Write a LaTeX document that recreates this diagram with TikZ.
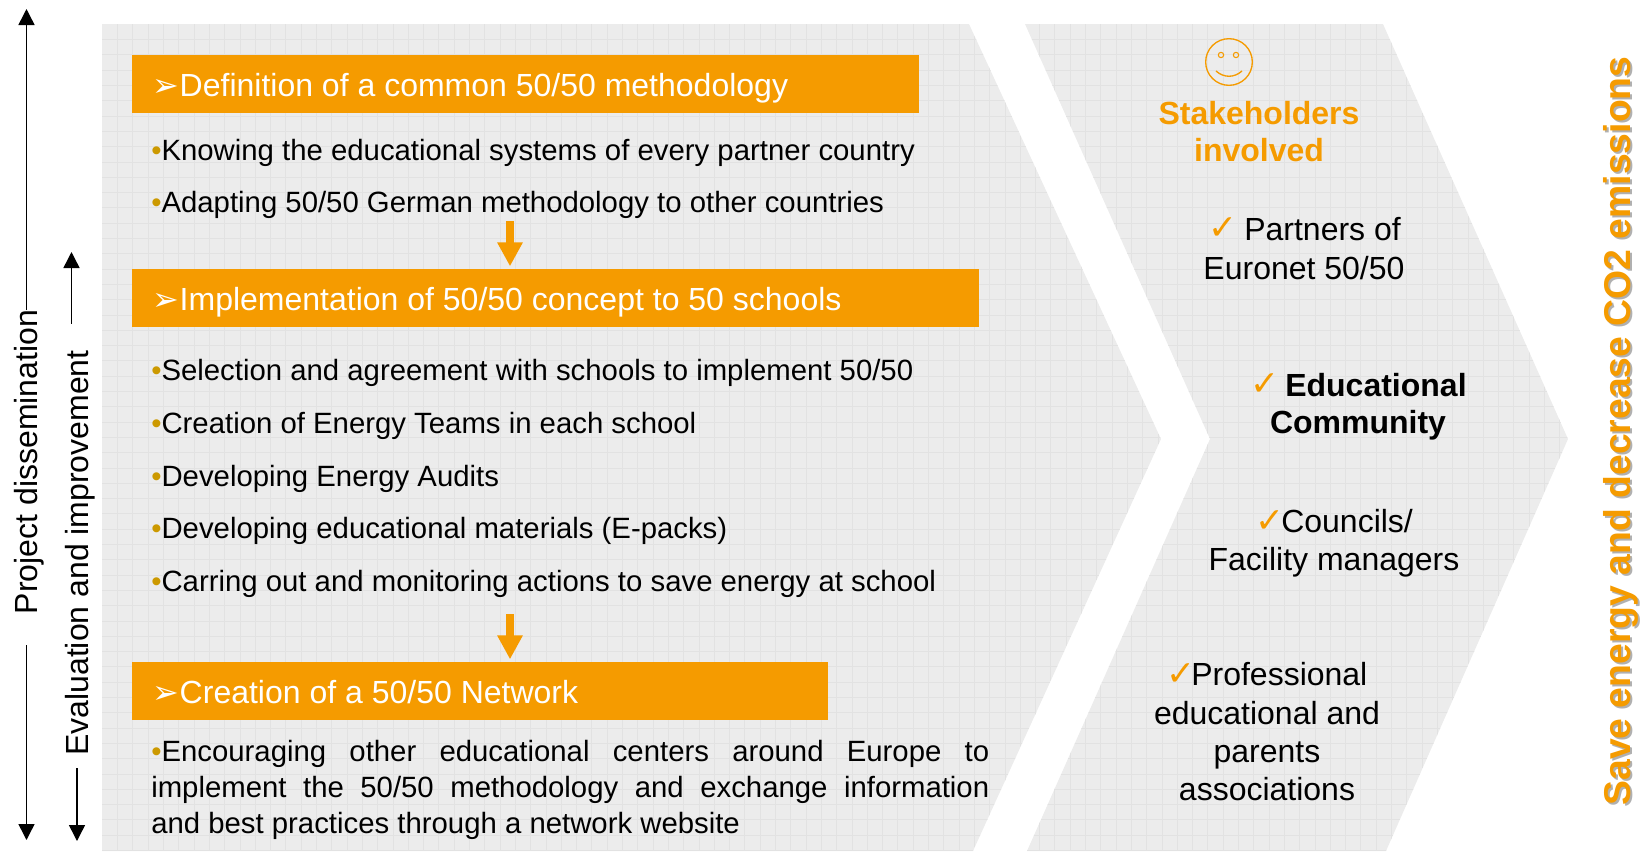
\documentclass[tikz,border=0pt]{standalone}
\usepackage{fontspec}
\setmainfont{Liberation Sans}
\newfontfamily\symfont{DejaVu Sans}
\usetikzlibrary{arrows.meta}
\definecolor{orangec}{HTML}{F59B00}
\definecolor{bulletc}{HTML}{CC9900}
\definecolor{chevc}{HTML}{ECECEC}
\definecolor{gridc}{HTML}{E2E2E2}
\definecolor{shadowc}{HTML}{B0B0B0}
\newcommand{\bul}{\textcolor{bulletc}{•}}
\newcommand{\arr}{{\symfont\fontsize{24}{28}\selectfont ➢}\hspace{0.5pt}}
\tikzset{
  x=0.75pt,y=-0.75pt,
  txt/.style={anchor=base west,inner sep=0pt,font=\fontsize{22}{26}\selectfont,text=black},
  ctr/.style={anchor=base,inner sep=0pt,font=\fontsize{24}{28}\selectfont,text=black},
  rgt/.style={anchor=base west,inner sep=0pt,font=\fontsize{24}{28}\selectfont,text=black},
  hdr/.style={anchor=base west,inner sep=0pt,font=\fontsize{24}{28}\selectfont,text=white},
  bar/.style={anchor=north west,inner sep=0pt,fill=orangec,minimum height=43.5pt},
  chk/.style={anchor=base west,inner sep=0pt,font=\symfont\fontsize{26}{28}\selectfont,text=orangec},
  arrowline/.style={line width=1.1pt,-{Triangle[width=12pt,length=12pt]}},
  fatarrow/.style={orangec,line width=6pt,-{Triangle[width=18pt,length=18pt]}},
  gridline/.style={gridc,line width=0.3pt},
  smile/.style={orangec,line width=1pt}
}
\begin{document}
\begin{tikzpicture}
\useasboundingbox (0,0) rectangle (1643,851);
% chevrons
\begin{scope}
  \fill[chevc] (102,24) -- (969,24) -- (1161,439) -- (973,851) -- (102,851) -- cycle;
  \clip (102,24) -- (969,24) -- (1161,439) -- (973,851) -- (102,851) -- cycle;
  \foreach \k in {1,...,70} {\draw[gridline] ({102+15.3*\k},24) -- ({102+15.3*\k},851);}
  \foreach \k in {1,...,54} {\draw[gridline] (102,{24+15.3*\k}) -- (1170,{24+15.3*\k});}
\end{scope}
\begin{scope}
  \fill[chevc] (1025,24) -- (1383,24) -- (1568,439) -- (1386,851) -- (1027,851) -- (1210,439) -- cycle;
  \clip (1025,24) -- (1383,24) -- (1568,439) -- (1386,851) -- (1027,851) -- (1210,439) -- cycle;
  \foreach \k in {0,...,36} {\draw[gridline] ({1024+15.3*\k},24) -- ({1024+15.3*\k},851);}
  \foreach \k in {1,...,54} {\draw[gridline] (1020,{24+15.3*\k}) -- (1570,{24+15.3*\k});}
\end{scope}
% bars
\node[bar,minimum width=590.25pt] (bar1) at (132,55) {};
\node[bar,minimum width=635.25pt] (bar2) at (132,269) {};
\node[bar,minimum width=522pt] (bar3) at (132,662) {};
\node[hdr] (h1) at (152,96) {\arr Definition of a common 50/50 methodology};
\node[hdr] (h2) at (152,310) {\arr Implementation of 50/50 concept to 50 schools};
\node[hdr] (h3) at (152,703) {\arr Creation of a 50/50 Network};
% body
\node[txt] (b1) at (151,160) {\bul Knowing the educational systems of every partner country};
\node[txt] (b2) at (151,212) {\bul Adapting 50/50 German methodology to other countries};
\node[txt] (b3) at (151,380) {\bul Selection and agreement with schools to implement 50/50};
\node[txt] (b4) at (151,433) {\bul Creation of Energy Teams in each school};
\node[txt] (b5) at (151,486) {\bul Developing Energy Audits};
\node[txt] (b6) at (151,538) {\bul Developing educational materials (E-packs)};
\node[txt] (b7) at (151,591) {\bul Carring out and monitoring actions to save energy at school};
\node[anchor=base west,inner sep=0pt,text width=628.5pt,align=justify,font=\fontsize{22}{27}\selectfont] (b8) at (151,761)
  {\bul Encouraging other educational centers around Europe to\linebreak implement the 50/50 methodology and exchange information\linebreak and best practices through a network website};
% orange arrows
\coordinate (fa1) at (510,221);
\coordinate (fa2) at (510,614);
\draw[fatarrow,shorten >=2pt] (fa1) -- (fa1 |- bar2.north);
\draw[fatarrow,shorten >=2pt] (fa2) -- (fa2 |- bar3.north);
% side labels and arrows
\node[rotate=90,anchor=base,inner sep=0pt,font=\fontsize{24}{28}\selectfont] (proj) at (37,462) {Project dissemination};
\node[rotate=90,anchor=base,inner sep=0pt,font=\fontsize{24}{28}\selectfont] (eval) at (88,553) {Evaluation and improvement};
\coordinate (pu) at (26.5,9);
\coordinate (pd) at (26.5,840);
\coordinate (eu) at (71.5,252);
\coordinate (ed) at (77,841);
\draw[arrowline] (pu |- proj.east) -- (pu);
\draw[arrowline,shorten <=23pt] (pd |- proj.west) -- (pd);
\draw[arrowline,shorten <=19.5pt] (eu |- eval.east) -- (eu);
\draw[arrowline,shorten <=9pt] (ed |- eval.west) -- (ed);
% smiley
\node[circle,draw=orangec,line width=1pt,minimum size=35pt,inner sep=0pt] (face) at (1229,62) {};
\node[circle,draw=orangec,line width=0.8pt,minimum size=4pt,inner sep=0pt] (eyeL) at (1221,55) {};
\node[circle,draw=orangec,line width=0.8pt,minimum size=4pt,inner sep=0pt] (eyeR) at (1236,55) {};
\draw[smile] (1216,71) .. controls (1224,78) and (1234,78) .. (1242,71);
% right column
\node[ctr,font=\bfseries\fontsize{24}{28}\selectfont,text=orangec] (s1) at (1259,124) {Stakeholders};
\node[ctr,font=\bfseries\fontsize{24}{28}\selectfont,text=orangec] (s2) at (1259,161) {involved};
\node[chk] (c1) at (1208,239) {✓};
\node[rgt] (r1) at (1244,240) {Partners of};
\node[ctr] (r2) at (1304,279) {Euronet 50/50};
\node[chk] (c2) at (1250,395) {✓};
\node[rgt,font=\bfseries\fontsize{24}{28}\selectfont] (r3) at (1285,396) {Educational};
\node[ctr,font=\bfseries\fontsize{24}{28}\selectfont] (r4) at (1358,433) {Community};
\node[chk] (c3) at (1255,532) {✓};
\node[rgt] (r5) at (1281,532) {Councils/};
\node[ctr] (r6) at (1334,570) {Facility managers};
\node[chk] (c4) at (1166,685) {✓};
\node[rgt] (r7) at (1191,685) {Professional};
\node[ctr] (r8) at (1267,724) {educational and};
\node[ctr] (r9) at (1267,762) {parents};
\node[ctr] (r10) at (1267,800) {associations};
% right vertical title
\node[rotate=90,anchor=base,inner sep=0pt,font=\bfseries\fontsize{28}{32}\selectfont,text=shadowc] (titleshadow) at (1632.5,433) {Save energy and decrease CO2 emissions};
\node[rotate=90,anchor=base,inner sep=0pt,font=\bfseries\fontsize{28}{32}\selectfont,text=orangec] (title) at (1630.5,431) {Save energy and decrease CO2 emissions};
\end{tikzpicture}
\end{document}
